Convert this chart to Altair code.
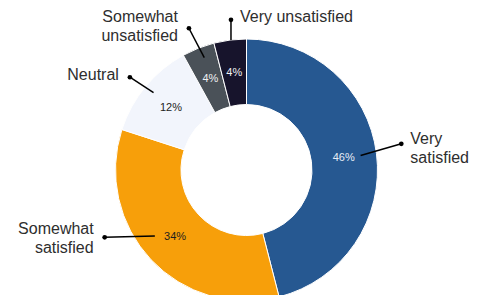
import altair as alt
import pandas as pd

# ---- data ----
categories = ["Very satisfied", "Somewhat satisfied", "Neutral",
              "Somewhat unsatisfied", "Very unsatisfied"]
values = [46, 34, 12, 4, 4]
label_text = ["Very\nsatisfied", "Somewhat\nsatisfied", "Neutral",
              "Somewhat\nunsatisfied", "Very unsatisfied"]

# ---- style / callout layout ----
colors = ["#265891", "#f79f0a", "#f2f5fc", "#4a5158", "#17142c"]
pct_colors = ["#e6edf7", "#1e1e1e", "#222222", "#eef0f2", "#eef0f2"]
start_shift = [0, 7.4, 0.2, 1, 0.4]        # degrees, leader line start
start_rad = [115, 113, 121, 120, 131]
dot_shift = [-2.4, 17.8, -1.1, -0.5, 1.3]  # degrees, leader line end (dot)
dot_rad = [157, 157, 149, 153, 151]
label_dy = [-5, -8.8, -2.3, -11.5, -2.7]

W, H = 470, 287
CX, CY = 238.5, 162
R_OUT, R_IN = 131, 65.5

df = pd.DataFrame({
    "category": categories,
    "value": values,
    "label": label_text,
    "order": list(range(len(categories))),
    "sshift": start_shift,
    "srad": start_rad,
    "dshift": dot_shift,
    "drad": dot_rad,
    "ldy": label_dy,
    "pctcolor": pct_colors,
})

xs = alt.Scale(domain=[0, W], range=[0, W])
ys = alt.Scale(domain=[0, H], range=[0, H])

base = alt.Chart(df).transform_joinaggregate(
    total="sum(value)"
).transform_window(
    cum="sum(value)", sort=[alt.SortField("order")], frame=[None, 0]
).transform_calculate(
    mid="2*PI*(datum.cum - datum.value/2)/datum.total",
).transform_calculate(
    pct_x=f"{CX} + 98*sin(datum.mid)",
    pct_y=f"{CY} - 98*cos(datum.mid)",
    sa="datum.mid + datum.sshift*PI/180",
    da="datum.mid + datum.dshift*PI/180",
).transform_calculate(
    ls_x=f"{CX} + datum.srad*sin(datum.sa)",
    ls_y=f"{CY} - datum.srad*cos(datum.sa)",
    dot_x=f"{CX} + datum.drad*sin(datum.da)",
    dot_y=f"{CY} - datum.drad*cos(datum.da)",
    side="sin(datum.da) > -0.2 ? 'left' : 'right'",
).transform_calculate(
    lab_x="datum.side == 'left' ? datum.dot_x + 9 : datum.dot_x - 11",
    lab_y="datum.dot_y + datum.ldy",
)

arcs = alt.Chart(df).mark_arc(
    innerRadius=R_IN, outerRadius=R_OUT, stroke="#ffffff", strokeWidth=1
).encode(
    theta=alt.Theta("value:Q", stack=True),
    order=alt.Order("order:Q"),
    color=alt.Color("category:N", scale=alt.Scale(domain=categories, range=colors),
                    legend=None),
    x=alt.value(CX),
    y=alt.value(CY),
)

pct = base.mark_text(fontSize=11, font="Liberation Sans", baseline="middle",
                     align="center").encode(
    x=alt.X("pct_x:Q", scale=xs, axis=None),
    y=alt.Y("pct_y:Q", scale=ys, axis=None),
    text=alt.Text("pctlabel:N"),
    color=alt.Color("pctcolor:N", scale=None),
).transform_calculate(pctlabel="datum.value + '%'")

lines = base.mark_rule(color="#000000", strokeWidth=1.5).encode(
    x=alt.X("ls_x:Q", scale=xs, axis=None),
    y=alt.Y("ls_y:Q", scale=ys, axis=None),
    x2="dot_x:Q",
    y2="dot_y:Q",
)

dots = base.mark_circle(color="#000000", size=22, opacity=1).encode(
    x=alt.X("dot_x:Q", scale=xs, axis=None),
    y=alt.Y("dot_y:Q", scale=ys, axis=None),
)

def labels(side):
    return base.mark_text(fontSize=16, font="Liberation Sans", color="#2e2e2e",
                          align=side, baseline="middle", lineBreak="\n",
                          lineHeight=19).encode(
        x=alt.X("lab_x:Q", scale=xs, axis=None),
        y=alt.Y("lab_y:Q", scale=ys, axis=None),
        text="label:N",
    ).transform_filter(f"datum.side == '{side}'")

chart = alt.layer(arcs, pct, lines, dots, labels("left"), labels("right")).properties(
    width=W, height=H, padding=0,
    autosize=alt.AutoSizeParams(type="none"),
).configure_view(stroke=None)

chart.save("out.html", embed_options={"renderer": "svg", "actions": False})
